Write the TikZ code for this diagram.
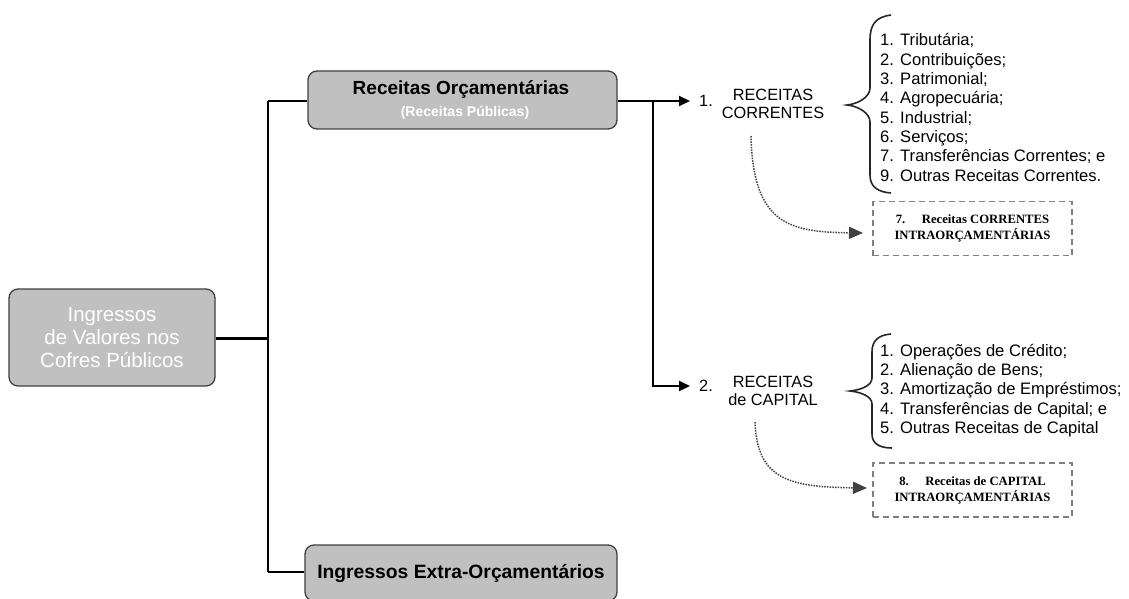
\documentclass[tikz,border=0pt]{standalone}
\usepackage{fontspec}
\setmainfont{Liberation Sans}
\newfontfamily\serifb{Liberation Serif}
\usetikzlibrary{arrows.meta}
\definecolor{boxgray}{RGB}{192,192,192}
\begin{document}
\begin{tikzpicture}[x=1pt,y=-1pt,
 gbox/.style={draw=black!75,line width=1.3pt,fill=boxgray,rounded corners=9pt,inner sep=0pt},
 conn/.style={line width=1.8pt,black},
 arr/.style={conn,-{Triangle[length=11pt,width=10pt]}},
 dbox/.style={draw=black!50,dash pattern=on 6pt off 4pt,line width=1.2pt,minimum width=199pt,minimum height=54pt,inner sep=0pt,align=center,font=\serifb\bfseries\fontsize{12.7}{16}\selectfont},
 listtxt/.style={align=left,anchor=west,font=\fontsize{16.6}{19.3}\selectfont,inner sep=0pt},
 dots/.style={line width=1.5pt,black!75,dash pattern=on 1.5pt off 1.2pt,-{Triangle[length=14pt,width=12pt]}},
 brace/.style={line width=1.6pt,black!85},
 lbl/.style={font=\fontsize{16.3}{18}\selectfont,inner sep=0pt,align=center}]
\useasboundingbox (0,0) rectangle (1129,599);

\node[gbox,minimum width=206pt,minimum height=97pt,align=center,text=white,font=\fontsize{20.5}{23}\selectfont] (ing) at (112,337.5) {Ingressos\\de Valores nos\\Cofres Públicos};

\node[gbox,minimum width=309pt,minimum height=58pt] (rec) at (462.5,100) {};
\node[font=\bfseries\fontsize{19}{21}\selectfont] (rect) at (461,90) {Receitas Orçamentárias};
\node[font=\bfseries\fontsize{14}{16}\selectfont,text=white] (recs) at (465,113) {(Receitas Públicas)};

\node[gbox,minimum width=312pt,minimum height=56pt,font=\bfseries\fontsize{19.3}{21}\selectfont] (extra) at (461,573) {Ingressos Extra-Orçamentários};

\coordinate (trunk) at (268,338);
\coordinate (top) at (268,101);
\coordinate (bot) at (268,572);
\coordinate (split) at (653,101);

\draw[conn,line width=3pt] (ing.east |- trunk) -- (trunk);
\draw[conn] (top) -- (bot);
\draw[conn] (top) -- (rec.west |- top);
\draw[conn] (bot) -- (extra.west |- bot);

\node[lbl] (n1) at (706,101) {1.};
\node[lbl] (n2) at (706,386) {2.};
\node[lbl] (rc1) at (773,104) {RECEITAS\\CORRENTES};
\node[lbl] (rc2) at (773,391) {RECEITAS\\de CAPITAL};

\draw[arr,shorten >=9pt] (rec.east |- split) -- (n1.west |- split);
\draw[arr,shorten >=9pt] (split) |- (n2.west);

\node[listtxt] (l1) at (880,107.5) {1. Tributária;\\2. Contribuições;\\3. Patrimonial;\\4. Agropecuária;\\5. Industrial;\\6. Serviços;\\7. Transferências Correntes; e\\9. Outras Receitas Correntes.};
\node[listtxt] (l2) at (880,390.5) {1. Operações de Crédito;\\2. Alienação de Bens;\\3. Amortização de Empréstimos;\\4. Transferências de Capital; e\\5. Outras Receitas de Capital};

\draw[brace] (891,15) .. controls (876,17) and (870,24) .. (870,40) -- (870,88) .. controls (870,97) and (858,104) .. (847,105) .. controls (858,106) and (870,113) .. (870,122) -- (870,175) .. controls (870,187) and (878,192) .. (891,193);
\draw[brace] (891,334) .. controls (878,335) and (872,341) .. (872,352) -- (872,378) .. controls (872,386) and (860,390) .. (850,391) .. controls (860,392) and (872,396) .. (872,404) -- (872,434) .. controls (872,444) and (880,448) .. (892,448);

\node[dbox] (d1) at (972.5,228.5) {7.\hspace{1.3em}Receitas CORRENTES\\INTRAORÇAMENTÁRIAS};
\node[dbox] (d2) at (972.5,490) {8.\hspace{1.3em}Receitas de CAPITAL\\INTRAORÇAMENTÁRIAS};

\coordinate (s1) at (751,136);
\coordinate (e1) at (863,233);
\draw[dots] (s1) .. controls (753,225) and (790,232) .. (e1);
\coordinate (s2) at (755,422);
\coordinate (e2) at (867,488);
\draw[dots] (s2) .. controls (757,480) and (790,487) .. (e2);
\end{tikzpicture}
\end{document}
